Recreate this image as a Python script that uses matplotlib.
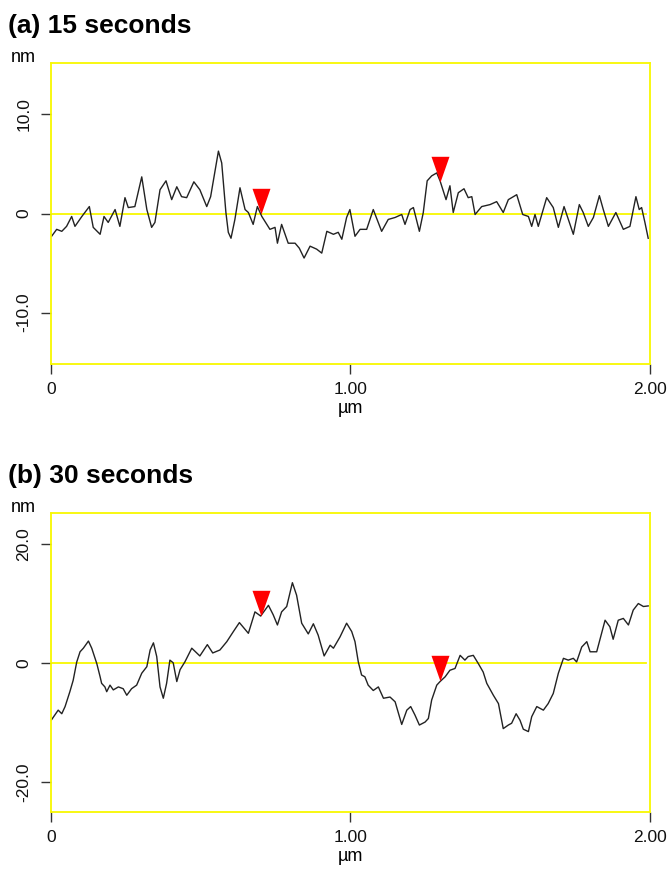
import numpy as np
from matplotlib import pyplot as plt

plt.rcParams['font.family'] = ['Liberation Sans', 'DejaVu Sans']

# Profile (a) 15 seconds - position in um, height in nm
x_a = [0.002, 0.019, 0.036, 0.052, 0.069, 0.080, 0.103, 0.128, 0.141, 0.164,
       0.177, 0.191, 0.214, 0.230, 0.247, 0.258, 0.280, 0.303, 0.320, 0.336,
       0.347, 0.364, 0.384, 0.403, 0.420, 0.436, 0.453, 0.477, 0.497, 0.520,
       0.533, 0.559, 0.570, 0.584, 0.592, 0.601, 0.614, 0.631, 0.648, 0.659,
       0.675, 0.689, 0.704, 0.731, 0.748, 0.756, 0.770, 0.792, 0.815, 0.829,
       0.845, 0.865, 0.887, 0.904, 0.921, 0.943, 0.959, 0.971, 0.987, 0.998,
       1.015, 1.032, 1.054, 1.076, 1.104, 1.126, 1.149, 1.171, 1.182, 1.199,
       1.210, 1.230, 1.243, 1.256, 1.271, 1.288, 1.299, 1.319, 1.332, 1.343,
       1.360, 1.379, 1.393, 1.405, 1.416, 1.438, 1.466, 1.488, 1.510, 1.527,
       1.555, 1.575, 1.594, 1.605, 1.616, 1.627, 1.655, 1.677, 1.694, 1.713,
       1.744, 1.764, 1.777, 1.794, 1.811, 1.831, 1.844, 1.861, 1.886, 1.911,
       1.933, 1.953, 1.964, 1.972, 1.983, 1.994]
h_a = [-2.3, -1.6, -1.8, -1.3, -0.3, -1.3, -0.3, 0.7, -1.4, -2.1,
       -0.3, -0.9, 0.4, -1.3, 1.6, 0.6, 0.7, 3.7, 0.4, -1.4,
       -0.9, 2.4, 3.3, 1.4, 2.7, 1.7, 1.6, 3.2, 2.4, 0.7,
       1.7, 6.3, 5.1, 0.1, -1.9, -2.5, -0.6, 2.6, 0.4, 0.1,
       -1.1, 0.7, -0.3, -1.6, -1.4, -3.0, -1.1, -3.0, -3.0, -3.5,
       -4.5, -3.3, -3.6, -4.0, -1.8, -2.1, -1.9, -2.6, -0.4, 0.4,
       -2.3, -1.6, -1.6, 0.4, -1.8, -0.6, -0.4, -0.1, -1.1, 0.4,
       0.6, -1.8, 0.1, 3.3, 3.8, 4.1, 3.3, 1.4, 2.8, 0.1,
       2.1, 2.5, 1.6, 1.7, -0.1, 0.7, 0.9, 1.2, 0.1, 1.4,
       1.9, -0.1, -0.3, -1.3, -0.1, -1.3, 1.6, 0.6, -1.4, 0.7,
       -2.1, 0.9, 0.1, -1.3, -0.4, 1.8, 0.4, -1.3, 0.1, -1.6,
       -1.3, 1.7, 0.4, 0.6, -0.9, -2.5]

# Profile (b) 30 seconds
x_b = [0.002, 0.013, 0.024, 0.036, 0.047, 0.063, 0.074, 0.086, 0.097, 0.108,
       0.125, 0.136, 0.153, 0.164, 0.169, 0.180, 0.186, 0.197, 0.208, 0.225,
       0.241, 0.253, 0.269, 0.286, 0.303, 0.320, 0.331, 0.342, 0.353, 0.364,
       0.375, 0.386, 0.397, 0.408, 0.420, 0.431, 0.447, 0.470, 0.497, 0.522,
       0.540, 0.564, 0.587, 0.609, 0.629, 0.659, 0.681, 0.700, 0.726, 0.742,
       0.756, 0.770, 0.787, 0.806, 0.820, 0.837, 0.859, 0.876, 0.892, 0.912,
       0.932, 0.943, 0.965, 0.987, 1.004, 1.015, 1.026, 1.037, 1.048, 1.059,
       1.076, 1.093, 1.110, 1.132, 1.149, 1.171, 1.188, 1.201, 1.215, 1.230,
       1.249, 1.260, 1.271, 1.288, 1.299, 1.316, 1.332, 1.349, 1.366, 1.382,
       1.393, 1.410, 1.427, 1.443, 1.455, 1.477, 1.494, 1.510, 1.527, 1.538,
       1.553, 1.566, 1.577, 1.594, 1.605, 1.622, 1.644, 1.660, 1.677, 1.694,
       1.711, 1.727, 1.744, 1.755, 1.772, 1.789, 1.800, 1.822, 1.850, 1.866,
       1.877, 1.894, 1.911, 1.928, 1.944, 1.961, 1.978, 1.994]
h_b = [-9.5, -8.7, -7.9, -8.5, -7.3, -4.8, -2.9, 0.2, 1.9, 2.5,
       3.7, 2.5, -0.1, -2.3, -3.4, -4.0, -4.8, -3.7, -4.5, -4.0,
       -4.3, -5.4, -4.3, -3.7, -1.7, -0.6, 2.2, 3.4, 1.1, -4.0,
       -5.9, -3.4, 0.5, 0.05, -3.1, -1.1, 0.2, 2.5, 1.2, 3.1,
       1.7, 2.2, 3.6, 5.3, 6.8, 5.0, 8.6, 7.9, 9.7, 8.1,
       6.4, 8.6, 9.5, 13.5, 11.4, 6.7, 4.9, 6.6, 4.7, 1.2,
       3.0, 2.5, 4.4, 6.7, 5.3, 3.6, 0.2, -2.0, -2.3, -3.7,
       -4.6, -4.0, -5.9, -5.7, -6.5, -10.3, -7.9, -7.3, -8.7, -10.4,
       -9.9, -9.3, -6.2, -3.7, -3.1, -2.3, -1.2, -0.9, 1.3, 0.5,
       1.1, 1.3, -0.1, -1.5, -3.4, -5.4, -6.8, -11.0, -10.4, -10.1,
       -8.5, -9.6, -11.1, -11.5, -9.0, -7.3, -7.9, -6.8, -5.1, -1.7,
       0.8, 0.5, 0.8, 0.2, 2.7, 3.6, 1.9, 1.9, 7.2, 6.1,
       4.0, 7.2, 7.5, 6.4, 8.9, 10.0, 9.5, 9.6]

# cursor positions (um)
cursors = [0.70, 1.30]

titles = ['(a) 15 seconds', '(b) 30 seconds']
yticks_a = [-10, 0, 10]
yticks_b = [-20, 0, 20]
ylabels_a = ['-10.0', '0', '10.0']
ylabels_b = ['-20.0', '0', '20.0']
xticks = [0, 1, 2]
xlabels = ['0', '1.00', '2.00']

W, H = 670, 871
fig = plt.figure(figsize=(W / 100, H / 100), dpi=100)

yellow = '#f8f800'
# downward triangle with its tip at the data point
tri = [(-0.35, 1.0), (0.35, 1.0), (0.0, 0.0), (-0.35, 1.0)]

panels = [
    (x_a, h_a, yticks_a, ylabels_a, (-15.2, 15.2), (51, 63, 650, 364)),
    (x_b, h_b, yticks_b, ylabels_b, (-25.0, 25.2), (51, 513, 650, 812)),
]

for i, (xs, hs, yt, yl, ylim, box) in enumerate(panels):
    l, t, r, b = box
    ax = fig.add_axes([l / W, 1 - b / H, (r - l) / W, (b - t) / H])

    ax.axhline(0, xmin=0, xmax=0.993, color=yellow, lw=1.3, zorder=1)
    ax.plot(xs, hs, color='#222222', lw=1.0, zorder=2)

    # red cursor markers sit on the profile
    cy = np.interp(cursors, xs, hs)
    ax.plot(cursors, cy, linestyle='none', marker=tri, markersize=37,
            color='#ff0000', markeredgewidth=0, zorder=3)

    ax.set_xlim(0, 2.0)
    ax.set_ylim(*ylim)
    for s in ax.spines.values():
        s.set_color(yellow)
        s.set_linewidth(1.3)

    ax.set_xticks(xticks)
    ax.set_xticklabels(xlabels)
    ax.set_yticks(yt)
    ax.set_yticklabels(yl, rotation=90, va='center')
    ax.tick_params(direction='out', length=7, width=1, color='#333333',
                   labelsize=12.5, labelcolor='#111111')
    ax.tick_params(axis='x', pad=6)
    ax.tick_params(axis='y', pad=7)

    # labels placed in pixel positions from the original
    fig.text(8 / W, 1 - (t - 37) / H, titles[i], fontsize=19,
             fontweight='bold', va='center', ha='left')
    fig.text(11 / W, 1 - (t - 6) / H, 'nm', fontsize=13, va='center', ha='left')
    fig.text((l + r) / 2 / W, 1 - (b + 44) / H, 'µm', fontsize=13,
             va='center', ha='center')

plt.savefig('out.png', dpi=100)
plt.close()
